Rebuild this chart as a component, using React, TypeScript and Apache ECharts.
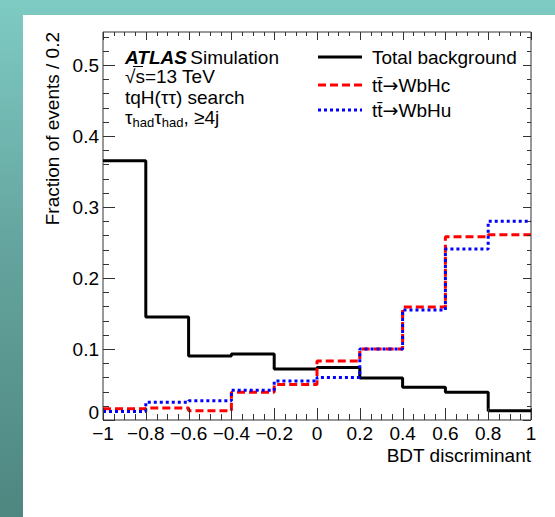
import React, { useEffect, useRef } from "react";
import * as echarts from "echarts";

// BDT discriminant histograms (fraction of events per 0.2-wide bin)
const binEdges = [-1, -0.8, -0.6, -0.4, -0.2, 0, 0.2, 0.4, 0.6, 0.8, 1];
const totalBackground = [0.365, 0.145, 0.09, 0.093, 0.072, 0.074, 0.059, 0.046, 0.039, 0.013];
const ttWbHc = [0.016, 0.017, 0.013, 0.039, 0.05, 0.083, 0.1, 0.159, 0.258, 0.261];
const ttWbHu = [0.012, 0.025, 0.027, 0.042, 0.055, 0.06, 0.1, 0.155, 0.241, 0.28];
const seriesNames = ["Total background", "tt\u0304\u2192WbHc", "tt\u0304\u2192WbHu"];

// axis ranges and tick marks
const xMin = -1;
const xMax = 1;
const yMax = 0.5465;
const xMajorTicks = [-1, -0.8, -0.6, -0.4, -0.2, 0, 0.2, 0.4, 0.6, 0.8, 1];
const yMajorTicks = [0, 0.1, 0.2, 0.3, 0.4, 0.5];
const xMinorStep = 0.05;
const yMinorStep = 0.02;

const GRID = { left: 103, top: 32, width: 428, height: 388 };
const FONT = "'Liberation Sans', Arial, Helvetica, sans-serif";
const FRAME = "#333";

// Turn bin contents into step-line points: left edge of each bin, plus the final right edge
function toSteps(values: number[]): number[][] {
  const pts = values.map((v, i) => [binEdges[i], v]);
  pts.push([binEdges[binEdges.length - 1], values[values.length - 1]]);
  return pts;
}

function fmtX(v: number): string {
  const r = Math.round(v * 10) / 10;
  return String(r).replace("-", "\u2212");
}

// the zero label sits above its tick, clear of the x-axis labels
function fmtY(v: number): string {
  const r = Math.round(v * 10) / 10;
  if (Math.abs(v - r) > 1e-6) return "";
  if (r === 0) return "0\n";
  return String(r);
}

// "tt̄→WbHx" with the arrow taken from DejaVu Sans, which draws a full-width arrow
function decayLabel(name: string): string {
  const [a, b] = name.split("\u2192");
  return `{t|${a}}{a|\u2192}{t|${b}}`;
}

// minor tick values between the major ones
function minorTicks(from: number, to: number, step: number, majors: number[]): number[] {
  const out: number[] = [];
  for (let i = 0; from + i * step <= to + 1e-9; i++) {
    const v = Math.round((from + i * step) * 1000) / 1000;
    if (!majors.some((m) => Math.abs(m - v) < 1e-9)) out.push(v);
  }
  return out;
}

export default function App() {
  const ref = useRef<HTMLDivElement>(null);

  useEffect(() => {
    if (!ref.current) return;
    const chart = echarts.init(ref.current, undefined, { renderer: "svg" });

    const sub = { fontSize: 13, fontFamily: FONT, color: "#000", verticalAlign: "bottom", lineHeight: 14 };
    const main = { fontSize: 19, fontFamily: FONT, color: "#000", lineHeight: 24 };

    const legendRows = [
      { y: 57, color: "#000", dash: null as number[] | null },
      { y: 85, color: "#ff0000", dash: [8, 4] },
      { y: 110, color: "#0000ff", dash: [3, 3] },
    ];
    const legendText = [seriesNames[0], decayLabel(seriesNames[1]), decayLabel(seriesNames[2])];

    const baseGraphic: any[] = [
      // axis titles
      {
        type: "text",
        x: 531,
        y: 455,
        style: { text: "BDT discriminant", font: `19px ${FONT}`, fill: "#000", align: "right", verticalAlign: "middle" },
      },
      {
        type: "text",
        x: 52,
        y: 32,
        rotation: Math.PI / 2,
        style: { text: "Fraction of events / 0.2", font: `19px ${FONT}`, fill: "#000", align: "right", verticalAlign: "middle" },
      },
      // ATLAS label block
      {
        type: "text",
        x: 125,
        y: 57,
        style: {
          text: "{b|ATLAS} {n|Simulation}",
          verticalAlign: "middle",
          rich: {
            b: { fontSize: 19, fontFamily: FONT, fontWeight: "bold", fontStyle: "italic", color: "#000" },
            n: { fontSize: 19, fontFamily: FONT, color: "#000" },
          },
        },
      },
      {
        type: "text",
        x: 125,
        y: 76,
        style: { text: "\u221As=13 TeV", font: `19px ${FONT}`, fill: "#000", verticalAlign: "middle" },
      },
      {
        type: "line",
        shape: { x1: 133, y1: 66.5, x2: 143, y2: 66.5 },
        style: { stroke: "#000", lineWidth: 1 },
      },
      {
        type: "text",
        x: 125,
        y: 97,
        style: { text: "tqH(\u03C4\u03C4) search", font: `19px ${FONT}`, fill: "#000", verticalAlign: "middle" },
      },
      {
        type: "text",
        x: 125,
        y: 117,
        style: {
          text: "{m|\u03C4}{s|had}{m|\u03C4}{s|had}{m|, \u22654j}",
          verticalAlign: "middle",
          rich: { m: main, s: sub },
        },
      },
      // legend
      ...legendRows.map((r) => ({
        type: "line",
        shape: { x1: 318, y1: r.y, x2: 362, y2: r.y },
        style: r.dash
          ? { stroke: r.color, lineWidth: 3, lineDash: r.dash }
          : { stroke: r.color, lineWidth: 3 },
      })),
      ...legendRows.map((r, i) => ({
        type: "text",
        x: 372,
        y: r.y,
        style: {
          text: legendText[i],
          font: `19px ${FONT}`,
          fill: "#000",
          verticalAlign: "middle",
          rich: {
            t: { fontSize: 19, fontFamily: FONT, color: "#000" },
            a: { fontSize: 19, fontFamily: "'DejaVu Sans'", color: "#000" },
          },
        },
      })),
    ];

    chart.setOption({
      animation: false,
      grid: {
        ...GRID,
        show: true,
        borderColor: FRAME,
        borderWidth: 1,
        backgroundColor: "transparent",
      },
      xAxis: {
        type: "value",
        min: xMin,
        max: xMax,
        interval: 0.2,
        splitLine: { show: false },
        axisLine: { show: false },
        axisTick: { show: false },
        axisLabel: { show: true, margin: 4, fontSize: 19, fontFamily: FONT, color: "#000", formatter: fmtX },
      },
      yAxis: {
        type: "value",
        min: 0,
        max: yMax,
        interval: 0.1,
        splitLine: { show: false },
        axisLine: { show: false },
        axisTick: { show: false },
        axisLabel: { show: true, margin: 4, fontSize: 19, lineHeight: 16, fontFamily: FONT, color: "#000", formatter: fmtY },
      },
      series: [
        {
          name: seriesNames[0],
          type: "line",
          step: "end",
          data: toSteps(totalBackground),
          symbol: "none",
          lineStyle: { color: "#000", width: 3 },
        },
        {
          name: seriesNames[1],
          type: "line",
          step: "end",
          data: toSteps(ttWbHc),
          symbol: "none",
          lineStyle: { color: "#ff0000", width: 3, type: [8, 4] },
        },
        {
          name: seriesNames[2],
          type: "line",
          step: "end",
          data: toSteps(ttWbHu),
          symbol: "none",
          lineStyle: { color: "#0000ff", width: 3, type: [3, 3] },
        },
      ],
      graphic: baseGraphic,
    });

    // Frame tick marks on all four sides, placed with the chart's own axis scales
    const toPx = (x: number, y: number): number[] => {
      let p: any = null;
      try {
        p = chart.convertToPixel({ gridIndex: 0 }, [x, y]);
      } catch (e) {
        p = null;
      }
      if (Array.isArray(p) && isFinite(p[0]) && isFinite(p[1])) return p;
      return [
        GRID.left + ((x - xMin) / (xMax - xMin)) * GRID.width,
        GRID.top + (1 - y / yMax) * GRID.height,
      ];
    };
    const crisp = (p: number) => Math.round(p) + 0.5;
    const seg = (x1: number, y1: number, x2: number, y2: number) => ({
      type: "line",
      silent: true,
      z: 10,
      shape: { x1, y1, x2, y2 },
      style: { stroke: FRAME, lineWidth: 1 },
    });

    const [left, bottom] = toPx(xMin, 0);
    const [right, top] = toPx(xMax, yMax);
    const tickEls: any[] = [];

    const addX = (v: number, major: boolean) => {
      const px = crisp(toPx(v, 0)[0]);
      tickEls.push(seg(px, bottom, px, bottom - (major ? 12 : 6)));
      tickEls.push(seg(px, top, px, top + (major ? 8 : 4)));
    };
    const addY = (v: number, major: boolean) => {
      const py = crisp(toPx(xMin, v)[1]);
      tickEls.push(seg(left, py, left + (major ? 12 : 6), py));
      tickEls.push(seg(right, py, right - (major ? 8 : 4), py));
    };

    xMajorTicks.forEach((v) => addX(v, true));
    minorTicks(xMin, xMax, xMinorStep, xMajorTicks).forEach((v) => addX(v, false));
    yMajorTicks.forEach((v) => addY(v, true));
    minorTicks(0, yMax, yMinorStep, yMajorTicks).forEach((v) => addY(v, false));

    chart.setOption({ graphic: [...baseGraphic, ...tickEls] });

    return () => chart.dispose();
  }, []);

  return (
    <div
      style={{
        position: "fixed",
        left: 0,
        top: 0,
        width: 555,
        height: 517,
        background: "linear-gradient(to bottom, #7ecbc4 0%, #66a6a0 45%, #4e8680 100%)",
      }}
    >
      <div style={{ position: "absolute", left: 23, top: 15, right: 0, bottom: 0, background: "#fff" }} />
      <div ref={ref} style={{ position: "absolute", left: 0, top: 0, width: 555, height: 517 }} />
    </div>
  );
}
